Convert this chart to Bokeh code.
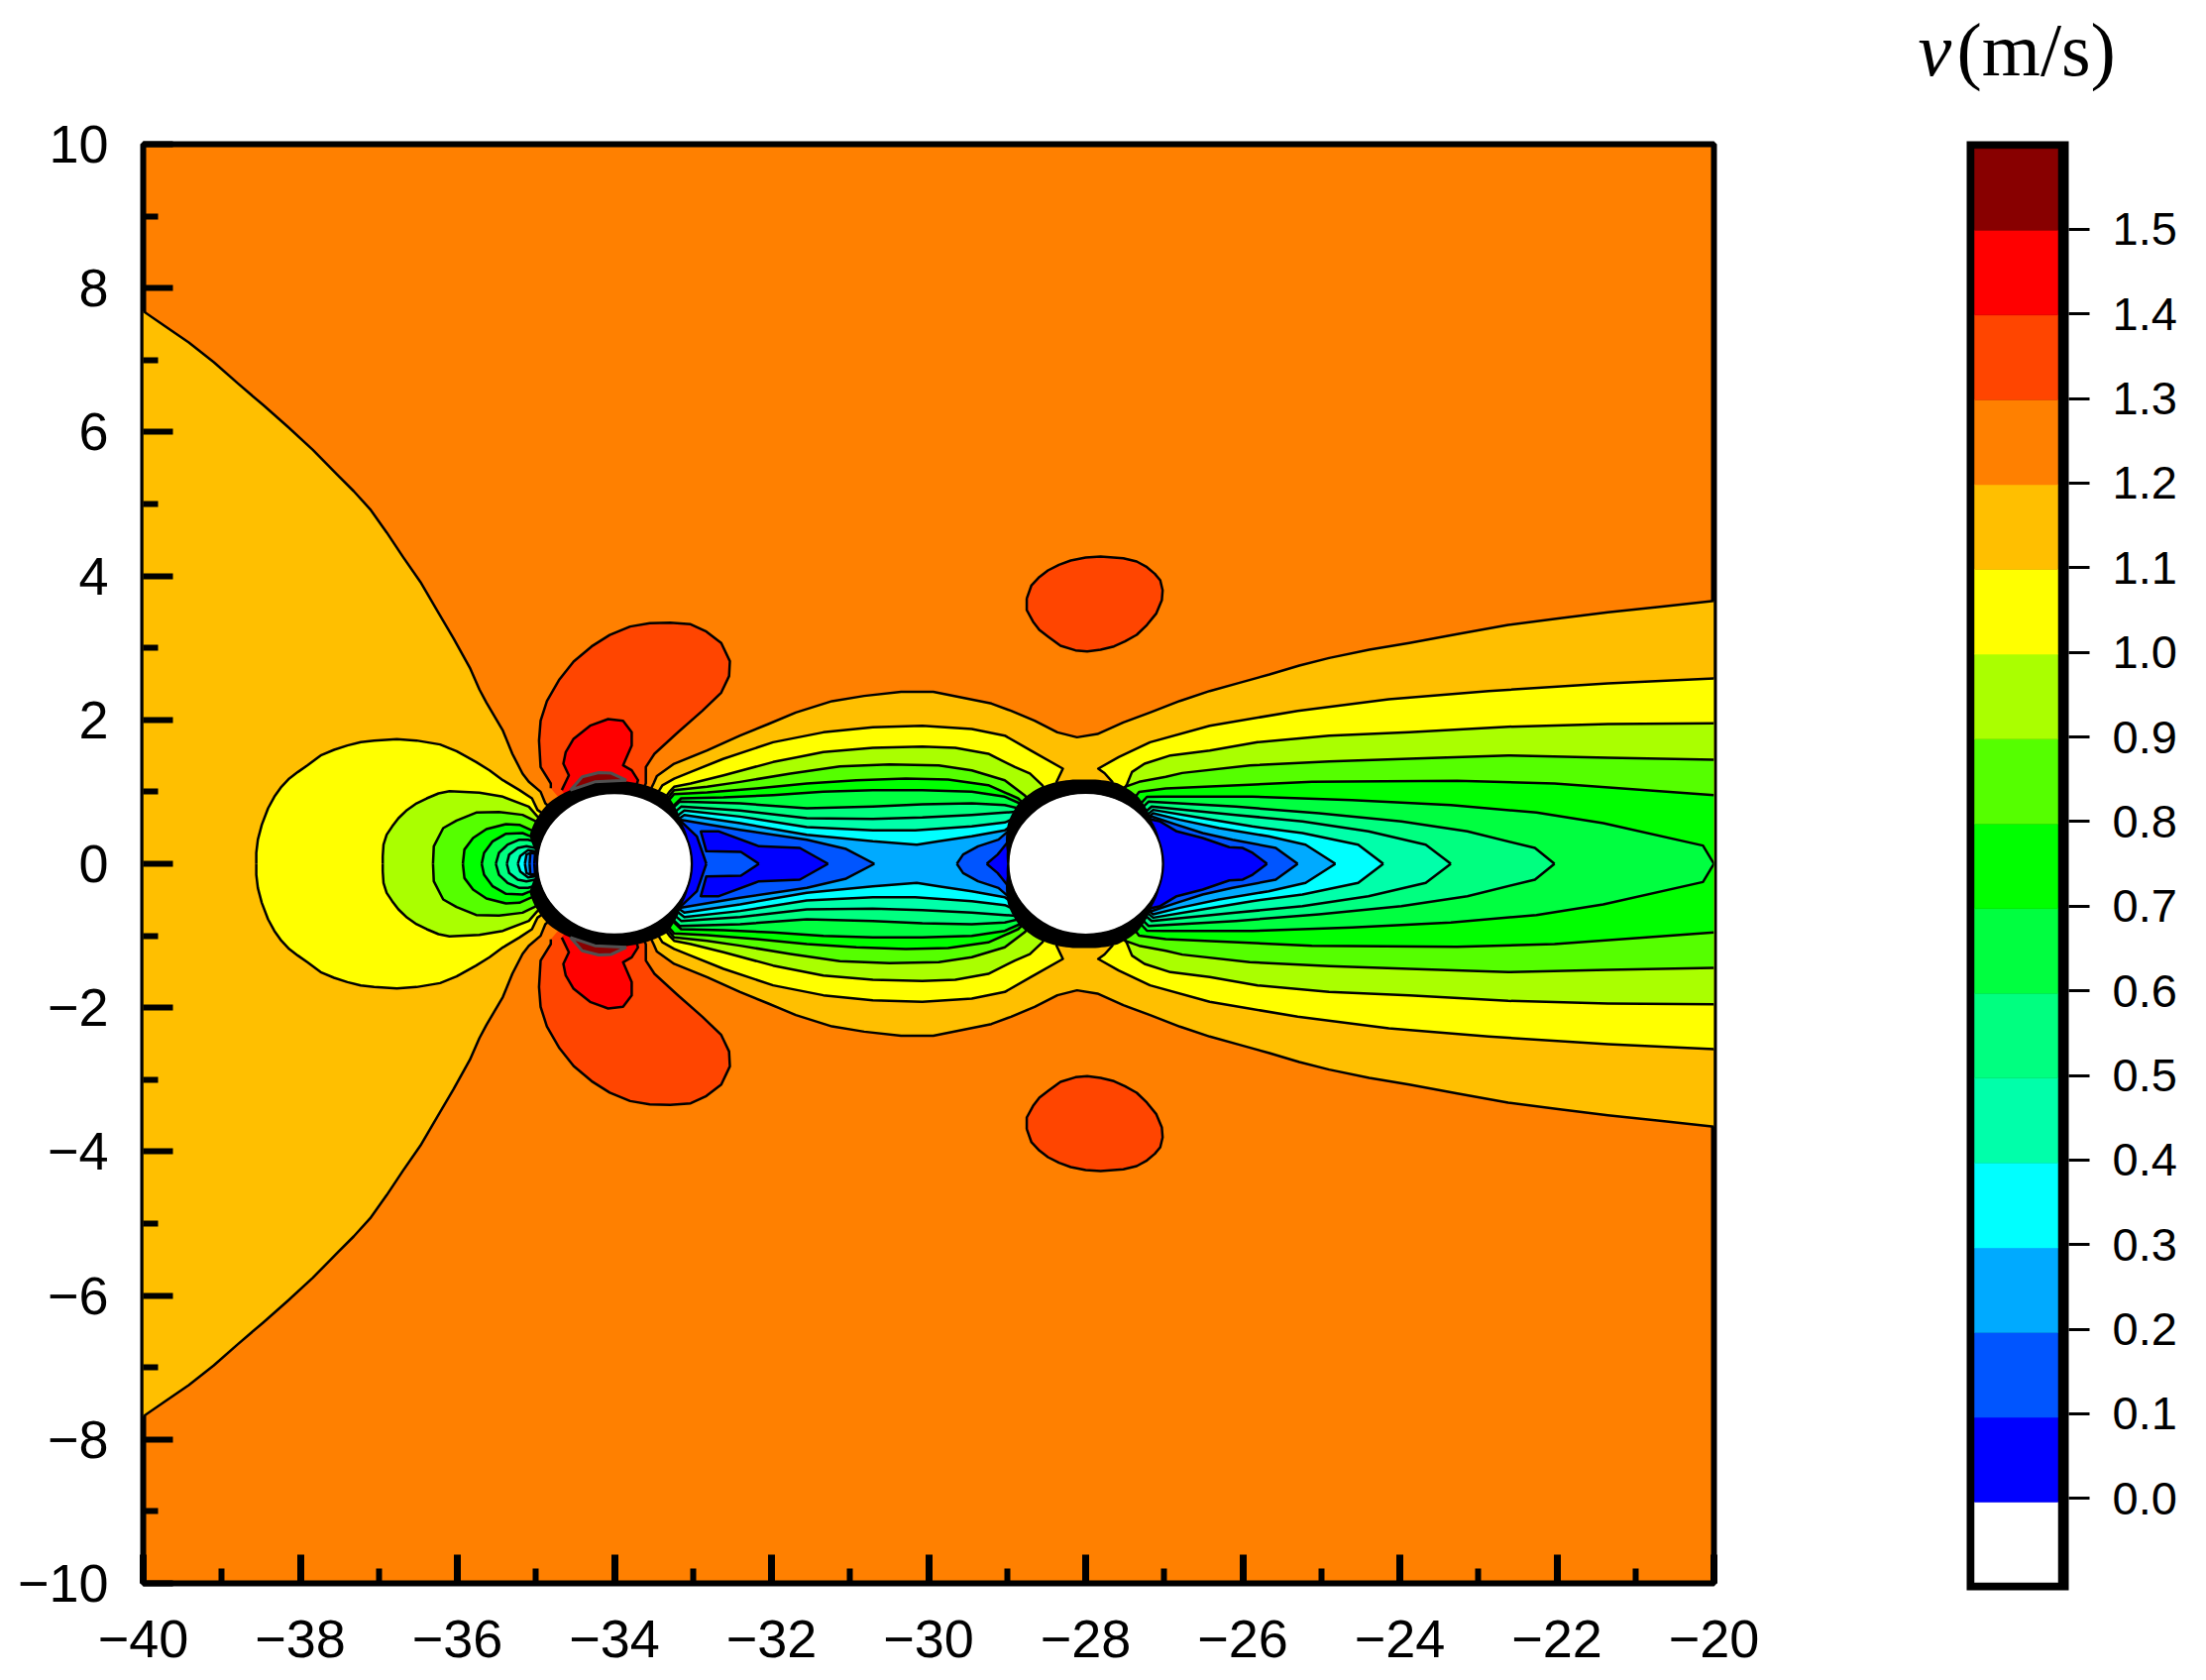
from bokeh.plotting import figure
from bokeh.embed import file_html
from bokeh.resources import INLINE
from bokeh.layouts import row, column
from bokeh.models import FixedTicker, Range1d, LinearAxis
from bokeh.core.properties import value
import numpy as np

# ---------- colour bands (value ranges of the legend) ----------
band_edges = [-0.0947, 0.0, 0.1, 0.2, 0.3, 0.4, 0.5, 0.6, 0.7, 0.8, 0.9, 1.0, 1.1, 1.2, 1.3, 1.4, 1.5, 1.596]
band_colors = ["#FFFFFF", "#0000FF", "#0055FF", "#00AAFF", "#00FFFF", "#00FFAA", "#00FF80", "#00FF40", "#00FF00",
               "#55FF00", "#AAFF00", "#FFFF00", "#FFBF00", "#FF8000", "#FF4500", "#FF0000", "#880000"]
cbar_ticks = [0.0, 0.1, 0.2, 0.3, 0.4, 0.5, 0.6, 0.7, 0.8, 0.9, 1.0, 1.1, 1.2, 1.3, 1.4, 1.5]
x_ticks = list(range(-40, -19, 2))
y_ticks = list(range(-10, 11, 2))

cyl1 = (-34.0, 0.0)
cyl2 = (-28.0, 0.0)
cyl_radius = 0.98
ring_angle = [0, 20, 35, 40, 45, 55, 70, 90, 120, 135, 150, 160, 170, 180]
ring1_radius = [1.0, 1.0, 1.03, 1.07, 1.10, 1.17, 1.16, 1.148, 1.17, 1.19, 1.17, 1.15, 1.02, 1.0]
ring2_radius = [1.0, 1.0, 1.03, 1.06, 1.09, 1.15, 1.19, 1.17, 1.21, 1.20, 1.14, 1.08, 1.02, 1.0]

# ---------- contour lines, upper half (the field is mirrored about y = 0) ----------
# front of the first cylinder
L12_front = [(-40, 7.68), (-39.71, 7.461), (-39.42, 7.245), (-39.10, 6.97), (-38.79, 6.671), (-38.47, 6.373), (-38.16, 6.074), (-37.84, 5.753), (-37.53, 5.409),
             (-37.32, 5.179), (-37.11, 4.927), (-36.90, 4.605), (-36.69, 4.261), (-36.47, 3.916), (-36.26, 3.526), (-36.05, 3.136), (-35.84, 2.723), (-35.72, 2.424),
             (-35.63, 2.241), (-35.42, 1.85), (-35.30, 1.529), (-35.17, 1.254), (-35.09, 1.139), (-34.94, 1.0), (-34.88, 0.84)]
L11_front = [(-38.56, 0), (-38.56, .152), (-38.54, .335), (-38.49, .542), (-38.41, .771), (-38.33, .932), (-38.24, 1.07), (-38.14, 1.185), (-38.03, 1.276), (-37.91, 1.368),
             (-37.74, 1.506), (-37.57, 1.584), (-37.40, 1.644), (-37.23, 1.69), (-37.06, 1.713), (-36.77, 1.731), (-36.52, 1.713), (-36.22, 1.658), (-36.01, 1.566),
             (-35.76, 1.414), (-35.59, 1.299), (-35.42, 1.162), (-35.21, 1.024), (-35.05, .909), (-34.98, .749)]
L10_front = [(-36.95, 0), (-36.95, .106), (-36.94, .266), (-36.90, .404), (-36.83, .519), (-36.75, .634), (-36.64, .748), (-36.52, .84), (-36.39, .909), (-36.24, .978),
             (-36.10, 1.01), (-35.72, .987), (-35.42, .932), (-35.09, .794), (-34.98, .657)]
L09_front = [(-36.31, 0), (-36.30, .243), (-36.18, .496), (-36.01, .602), (-35.76, .712), (-35.47, .721), (-35.17, .68), (-35.02, .602)]
L08_front = [(-35.93, 0), (-35.91, .198), (-35.80, .358), (-35.63, .482), (-35.38, .551), (-35.21, .542), (-35.07, .473)]
L07_front = [(-35.69, 0), (-35.66, .152), (-35.55, .312), (-35.38, .418), (-35.17, .427), (-35.09, .39)]
L06_front = [(-35.51, 0), (-35.47, .152), (-35.36, .266), (-35.21, .335), (-35.10, .335)]
L05_front = [(-35.37, 0), (-35.34, .129), (-35.23, .22), (-35.12, .244)]
L04_front = [(-35.23, 0), (-35.20, .106), (-35.10, .188)]
L03_front = [(-35.14, 0), (-35.12, .129), (-35.02, .17)]
L02_front = [(-35.08, 0), (-35.07, .152)]
L01_front = [(-35.02, 0), (-35.01, .152)]

# wake: the 1.2 line runs from the first cylinder to the right edge
L12_wake = [(-33.50, 1.12), (-33.46, 1.22), (-33.24, 1.39), (-32.82, 1.575), (-32.40, 1.781), (-32.04, 1.942), (-31.69, 2.103), (-31.23, 2.26), (-30.82, 2.333), (-30.35, 2.39), (-29.94, 2.39),
            (-29.20, 2.227), (-28.95, 2.126), (-28.65, 1.988), (-28.36, 1.827), (-28.11, 1.758), (-27.85, 1.804), (-27.52, 1.965), (-27.18, 2.103), (-26.80, 2.263), (-26.42, 2.401),
            (-26.04, 2.516), (-25.66, 2.63), (-25.28, 2.755), (-24.90, 2.86), (-24.39, 2.975), (-23.88, 3.067), (-23.25, 3.195), (-22.62, 3.319), (-21.96, 3.411), (-21.35, 3.494), (-20.69, 3.572), (-20, 3.654)]
# between the cylinders
L11_gap = [(-33.39, 1.09), (-33.24, 1.184), (-33.03, 1.276), (-32.61, 1.46), (-31.98, 1.689), (-31.34, 1.827), (-30.71, 1.896), (-30.08, 1.919), (-29.45, 1.873),
           (-29.03, 1.781), (-28.70, 1.575), (-28.29, 1.322), (-28.37, 1.139)]
L10_gap = [(-33.30, 1.0), (-33.24, 1.07), (-33.03, 1.116), (-32.61, 1.23), (-31.98, 1.414), (-31.34, 1.552), (-30.71, 1.611), (-30.08, 1.63), (-29.66, 1.611),
           (-29.24, 1.529), (-28.90, 1.345), (-28.71, 1.254), (-28.55, 1.09)]
L09_gap = [(-33.24, 1.024), (-32.82, 1.07), (-32.40, 1.138), (-31.76, 1.253), (-31.13, 1.354), (-30.50, 1.382), (-29.87, 1.368), (-29.45, 1.299), (-29.03, 1.161), (-28.78, .955)]
L08_gap = [(-33.24, .969), (-32.82, .992), (-32.19, 1.047), (-31.55, 1.116), (-30.92, 1.161), (-30.29, 1.185), (-29.75, 1.171), (-29.24, 1.093), (-28.86, .909)]
L07_gap = [(-33.15, .909), (-32.61, .923), (-31.98, .955), (-31.34, 1.001), (-30.71, 1.024), (-30.08, 1.024), (-29.45, 1.001), (-29.03, .932), (-28.84, .84)]
L06_gap = [(-33.17, .863), (-32.40, .84), (-31.55, .771), (-30.71, .794), (-30.08, .826), (-29.45, .84), (-29.03, .817), (-28.86, .771)]
L05_gap = [(-33.15, .794), (-32.40, .739), (-31.55, .633), (-30.71, .624), (-30.08, .643), (-29.45, .679), (-29.03, .712), (-28.86, .725)]
L04_gap = [(-33.11, .739), (-32.40, .656), (-31.55, .509), (-30.71, .464), (-30.17, .464), (-29.45, .519), (-29.03, .574), (-28.90, .634)]
L03_gap = [(-33.11, .679), (-32.40, .564), (-31.55, .404), (-30.71, .312), (-30.15, .266), (-29.87, .312), (-29.45, .381), (-29.03, .464), (-28.90, .565)]
L02_gap_a = [(-33.15, .61), (-32.40, .473), (-31.55, .335), (-31.05, .206), (-30.69, 0)]
L02_gap_b = [(-29.64, 0), (-29.56, .129), (-29.37, .243), (-29.11, .335), (-28.99, .45)]
L01_gap_a = [(-33.22, .66), (-32.95, .381), (-32.83, 0)]
L01_gap_b = [(-32.16, 0), (-32.39, .165), (-32.83, .174), (-32.90, .45), (-32.67, .45), (-32.16, .243), (-31.64, .22), (-31.28, 0)]
L01_gap_c = [(-29.26, 0), (-29.12, .129), (-29.07, .197), (-28.97, .335)]

# behind the second cylinder
L11_rear = [(-27.66, 1.139), (-27.76, 1.26), (-27.84, 1.322), (-27.58, 1.483), (-27.18, 1.689), (-26.42, 1.919), (-25.30, 2.125), (-24.14, 2.286), (-22.87, 2.401), (-21.35, 2.507), (-20, 2.576)]
L10_rear = [(-27.47, 1.115), (-27.41, 1.276), (-27.25, 1.391), (-26.92, 1.506), (-26.42, 1.574), (-25.81, 1.69), (-24.90, 1.781), (-23.88, 1.827), (-22.62, 1.905), (-21.35, 1.942), (-20, 1.951)]
L09_rear = [(-27.50, 1.07), (-27.32, 1.139), (-26.98, 1.208), (-26.77, 1.262), (-25.91, 1.368), (-24.90, 1.423), (-23.88, 1.46), (-22.62, 1.506), (-21.35, 1.474), (-20, 1.446)]
L08_rear = [(-27.32, 1.0), (-26.98, 1.047), (-25.12, 1.139), (-23.27, 1.152), (-22.03, 1.116), (-20, .955)]
L07_rear = [(-27.22, .93), (-27.01, .932), (-25.88, .932), (-24.61, .886), (-23.35, .817), (-22.26, .712), (-21.41, .565), (-20.14, .253), (-20, 0)]
L06_rear = [(-27.20, .863), (-26.09, .794), (-25.03, .703), (-23.98, .588), (-23.14, .45), (-22.28, .22), (-22.03, 0)]
L05_rear = [(-27.16, .795), (-26.09, .68), (-25.24, .588), (-24.40, .45), (-23.67, .266), (-23.35, 0)]
L04_rear = [(-27.14, .749), (-26.51, .634), (-25.88, .519), (-25.24, .427), (-24.53, .266), (-24.21, 0)]
L03_rear = [(-27.14, .703), (-26.80, .611), (-26.30, .496), (-25.67, .381), (-25.20, .266), (-24.82, 0)]
L02_rear = [(-27.16, .657), (-26.84, .542), (-26.51, .427), (-26.13, .335), (-25.58, .22), (-25.30, 0)]
L01_rear = [(-27.18, .62), (-27.05, .588), (-26.84, .45), (-26.51, .358), (-26.17, .23), (-26.0, .22), (-25.875, .152), (-25.69, 0)]

# closed lobes above the cylinders
L13_lobe1 = [(-34.81, 1.05), (-34.81, 1.116), (-34.94, 1.345), (-34.96, 1.713), (-34.94, 1.988), (-34.86, 2.26), (-34.70, 2.562), (-34.52, 2.81), (-34.29, 3.021), (-34.06, 3.18),
             (-33.80, 3.297), (-33.55, 3.343), (-33.29, 3.352), (-33.03, 3.329), (-32.83, 3.228), (-32.64, 3.067), (-32.53, 2.815), (-32.54, 2.608), (-32.64, 2.379), (-32.88, 2.126),
             (-33.19, 1.828), (-33.49, 1.529), (-33.60, 1.345), (-33.60, 1.12)]
L14_lobe1 = [(-34.67, 1.024), (-34.58, 1.23), (-34.65, 1.391), (-34.62, 1.552), (-34.52, 1.736), (-34.31, 1.919), (-34.08, 2.011), (-33.89, 1.988), (-33.78, 1.827), (-33.78, 1.644),
             (-33.89, 1.368), (-33.78, 1.30), (-33.70, 1.162)]
L15_lobe1 = [(-34.56, 1.024), (-34.41, 1.208), (-34.2, 1.267), (-34.04, 1.26), (-33.85, 1.162), (-34.25, 1.139)]
L13_lobe2 = [(-28.75, 3.687), (-28.69, 3.87), (-28.59, 3.985), (-28.48, 4.077), (-28.34, 4.155), (-28.19, 4.215), (-28.0, 4.256), (-27.81, 4.27), (-27.52, 4.247), (-27.35, 4.201),
             (-27.22, 4.123), (-27.12, 4.031), (-27.05, 3.939), (-27.02, 3.801), (-27.03, 3.664), (-27.10, 3.48), (-27.22, 3.319), (-27.35, 3.182), (-27.50, 3.09), (-27.64, 3.021),
             (-27.81, 2.975), (-27.98, 2.952), (-28.13, 2.966), (-28.32, 3.03), (-28.48, 3.159), (-28.59, 3.25), (-28.67, 3.365), (-28.75, 3.526)]

c = dict(zip(cbar_ticks[1:], band_colors[1:]))
fills = [
    (1.2, L12_front, None, cyl1), (1.2, L12_wake, cyl1, None),
    (1.1, L11_front, None, cyl1), (1.1, L11_gap, cyl1, cyl2), (1.1, L11_rear, cyl2, None),
    (1.0, L10_front, None, cyl1), (1.0, L10_gap, cyl1, cyl2), (1.0, L10_rear, cyl2, None),
    (0.9, L09_front, None, cyl1), (0.9, L09_gap, cyl1, cyl2), (0.9, L09_rear, cyl2, None),
    (0.8, L08_front, None, cyl1), (0.8, L08_gap, cyl1, cyl2), (0.8, L08_rear, cyl2, None),
    (0.7, L07_front, None, cyl1), (0.7, L07_gap, cyl1, cyl2), (0.7, L07_rear, cyl2, None),
    (0.6, L06_front, None, cyl1), (0.6, L06_gap, cyl1, cyl2), (0.6, L06_rear, cyl2, None),
    (0.5, L05_front, None, cyl1), (0.5, L05_gap, cyl1, cyl2), (0.5, L05_rear, cyl2, None),
    (0.4, L04_front, None, cyl1), (0.4, L04_gap, cyl1, cyl2), (0.4, L04_rear, cyl2, None),
    (0.3, L03_front, None, cyl1), (0.3, L03_gap, cyl1, cyl2), (0.3, L03_rear, cyl2, None),
    (0.2, L02_front, None, cyl1), (0.2, L02_gap_a, cyl1, None), (0.2, L02_gap_b, None, cyl2), (0.2, L02_rear, cyl2, None),
    (0.1, L01_front, None, cyl1), (0.1, L01_gap_a, cyl1, None), (0.1, L01_gap_b, None, None), (0.1, L01_gap_c, None, cyl2), (0.1, L01_rear, cyl2, None),
]

p = figure(width=1800, height=1695, x_range=Range1d(-40, -20), y_range=Range1d(-10, 10),
           min_border_left=144, min_border_right=71, min_border_top=145, min_border_bottom=98, frame_align=False,
           output_backend="svg", toolbar_location=None, background_fill_color="#FF8000", border_fill_color="#FFFFFF")
p.grid.visible = False

line_xs, line_ys = [], []
for level, path, start, end in fills:
    upper = ([start] if start else []) + list(path) + ([end] if end else [])
    ux = [q[0] for q in upper]
    uy = [q[1] for q in upper]
    p.patch(ux + ux[::-1], uy + [-v for v in uy[::-1]], fill_color=c[round(level, 1)], line_color=None)
    line_xs += [ux, ux]
    line_ys += [uy, [-v for v in uy]]

for sign in (1, -1):
    for color, lobe, cyl in ((c[1.4], L13_lobe1, cyl1), (c[1.5], L14_lobe1, cyl1)):
        lx = [q[0] for q in lobe] + [cyl[0]]
        ly = [sign * q[1] for q in lobe] + [cyl[1]]
        p.patch(lx, ly, fill_color=color, line_color=None)
        line_xs.append(lx)
        line_ys.append(ly)
    lx = [q[0] for q in L13_lobe2] + [L13_lobe2[0][0]]
    ly = [sign * q[1] for q in L13_lobe2] + [sign * L13_lobe2[0][1]]
    p.patch(lx, ly, fill_color=c[1.4], line_color=None)
    line_xs.append(lx)
    line_ys.append(ly)

p.multi_line(line_xs, line_ys, line_color="#000000", line_width=2.5, line_join="round")

# black band around the cylinders (dense contour lines at the wall)
angles = np.radians(np.arange(0, 361, 2))
folded = np.degrees(np.arccos(np.cos(angles)))
for cyl, radius in ((cyl1, ring1_radius), (cyl2, ring2_radius)):
    r = np.interp(folded, ring_angle, radius)
    p.patch(cyl[0] + r * np.cos(angles), cyl[1] + r * np.sin(angles), fill_color="#000000", line_color=None)
p.ellipse(x=[cyl1[0], cyl2[0]], y=[cyl1[1], cyl2[1]], width=2 * cyl_radius, height=2 * cyl_radius,
          fill_color="#FFFFFF", line_color="#000000", line_width=1.5)

for sign in (1, -1):
    lx = [q[0] for q in L15_lobe1]
    ly = [sign * q[1] for q in L15_lobe1]
    p.patch(lx, ly, fill_color=band_colors[-1], line_color="#505050", line_width=3)

p.outline_line_color = "#000000"
p.outline_line_width = 6
p.outline_line_alpha = 1

p.xaxis.ticker = FixedTicker(ticks=x_ticks, minor_ticks=list(range(-39, -20, 2)))
p.yaxis.ticker = FixedTicker(ticks=y_ticks, minor_ticks=list(range(-9, 10, 2)))
p.xaxis.major_label_overrides = {t: str(t).replace("-", "\u2212") for t in x_ticks}
p.yaxis.major_label_overrides = {t: str(t).replace("-", "\u2212") for t in y_ticks}
for ax, maj, mnr, wd, standoff in ((p.xaxis, 29, 15, 7, 37), (p.yaxis, 30, 15, 6, 35)):
    ax.axis_line_color = None
    ax.major_tick_in = maj
    ax.major_tick_out = 0
    ax.minor_tick_in = mnr
    ax.minor_tick_out = 0
    ax.major_tick_line_width = wd
    ax.minor_tick_line_width = 6
    ax.major_tick_line_color = "#000000"
    ax.minor_tick_line_color = "#000000"
    ax.major_label_text_font = "Liberation Sans"
    ax.major_label_text_font_size = "54px"
    ax.major_label_text_color = "#000000"
    ax.major_label_standoff = standoff

# ---------- title above the colour bar ----------
tf = figure(width=426, height=142, x_range=Range1d(0, 426), y_range=Range1d(0, 142), frame_align=False,
            min_border_left=0, min_border_right=0, min_border_top=0, min_border_bottom=0,
            output_backend="svg", toolbar_location=None, outline_line_color=None)
tf.grid.visible = False
tf.xaxis.visible = False
tf.yaxis.visible = False
tf.text(x=[135], y=[93], text=["v"], text_font=value("Liberation Serif"), text_font_style="italic", text_font_size="76px",
        text_color="#000000", text_baseline="alphabetic", text_align="left")
tf.text(x=[174], y=[93], text=["(m/s)"], text_font=value("Liberation Serif"), text_font_size="76px",
        text_color="#000000", text_baseline="alphabetic", text_align="left")

# ---------- colour bar ----------
cb = figure(width=426, height=1553, x_range=Range1d(-0.0952, 1.131), y_range=Range1d(-0.104, 1.605), frame_align=False,
            min_border_left=184, min_border_right=139, min_border_top=0, min_border_bottom=91,
            output_backend="svg", toolbar_location=None, background_fill_color="#000000", border_fill_color="#FFFFFF",
            outline_line_color=None)
cb.grid.visible = False
cb.xaxis.visible = False
cb.yaxis.visible = False
cb.quad(left=[0] * len(band_colors), right=[1] * len(band_colors), bottom=band_edges[:-1], top=band_edges[1:],
        fill_color=band_colors, line_color=band_colors, line_width=0.5)
cb.extra_y_ranges = {"ticks": Range1d(-0.1085, 1.604)}
ax = LinearAxis(y_range_name="ticks", ticker=FixedTicker(ticks=cbar_ticks), axis_line_color=None)
ax.major_tick_in = 0
ax.major_tick_out = 21
ax.minor_tick_in = 0
ax.minor_tick_out = 0
ax.major_tick_line_width = 3
ax.major_tick_line_color = "#000000"
ax.major_label_text_font = "Liberation Sans"
ax.major_label_text_font_size = "47px"
ax.major_label_text_color = "#000000"
ax.major_label_standoff = 23
ax.major_label_overrides = {t: f"{t:.1f}" for t in cbar_ticks}
cb.add_layout(ax, "right")

layout = row(p, column(tf, cb, spacing=0), spacing=0)
open("out.html", "w").write(file_html(layout, INLINE))
